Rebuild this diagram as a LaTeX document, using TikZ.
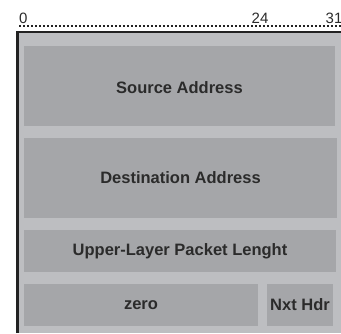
\documentclass[tikz,border=0pt]{standalone}
\usepackage{fontspec}
\setmainfont{Liberation Sans}
\definecolor{outerbg}{HTML}{BDBEC1}
\definecolor{fieldbg}{HTML}{A5A6A9}
\definecolor{txt}{HTML}{2B2B2B}
\definecolor{frame}{HTML}{222222}
\tikzset{
  field/.style={fill=fieldbg, draw=none, inner sep=0pt},
  fieldtext/.style={font=\fontsize{16.5}{18}\selectfont\bfseries, text=txt, inner sep=0pt},
  bitnum/.style={font=\fontsize{15}{17}\selectfont, text=txt, inner sep=0pt, anchor=base west},
}
\begin{document}
\begin{tikzpicture}[x=1pt,y=-1pt]
\useasboundingbox (0,0) rectangle (341,333);
% outer frame background
\fill[outerbg] (17.5,32) rectangle (341,333);
\draw[frame, line width=2.5pt] (17.5,333) -- (17.5,32) -- (341,32);
% dotted ruler
\draw[frame, line width=2pt, dash pattern=on 2pt off 2pt] (19,25.5) -- (341,25.5);
\node[bitnum] (b0) at (19,23) {0};
\node[bitnum] (b24) at (251.5,23) {24};
\node[bitnum] (b31) at (325.5,23) {31};
% fields
\fill[fieldbg] (24,46) rectangle (335,126);
\node[fieldtext] (src) at (179.5,87.5) {Source Address};
\fill[fieldbg] (24,138) rectangle (337,218);
\node[fieldtext] (dst) at (180.5,178) {Destination Address};
\fill[fieldbg] (24,230) rectangle (336,272);
\node[fieldtext] (ulp) at (180,251) {Upper-Layer Packet Lenght};
\fill[fieldbg] (24,284) rectangle (258,326);
\node[fieldtext] (zero) at (141,305) {zero};
\fill[fieldbg] (267,284) rectangle (333,326);
\node[fieldtext] (nxt) at (300,305) {Nxt Hdr};
\end{tikzpicture}
\end{document}
